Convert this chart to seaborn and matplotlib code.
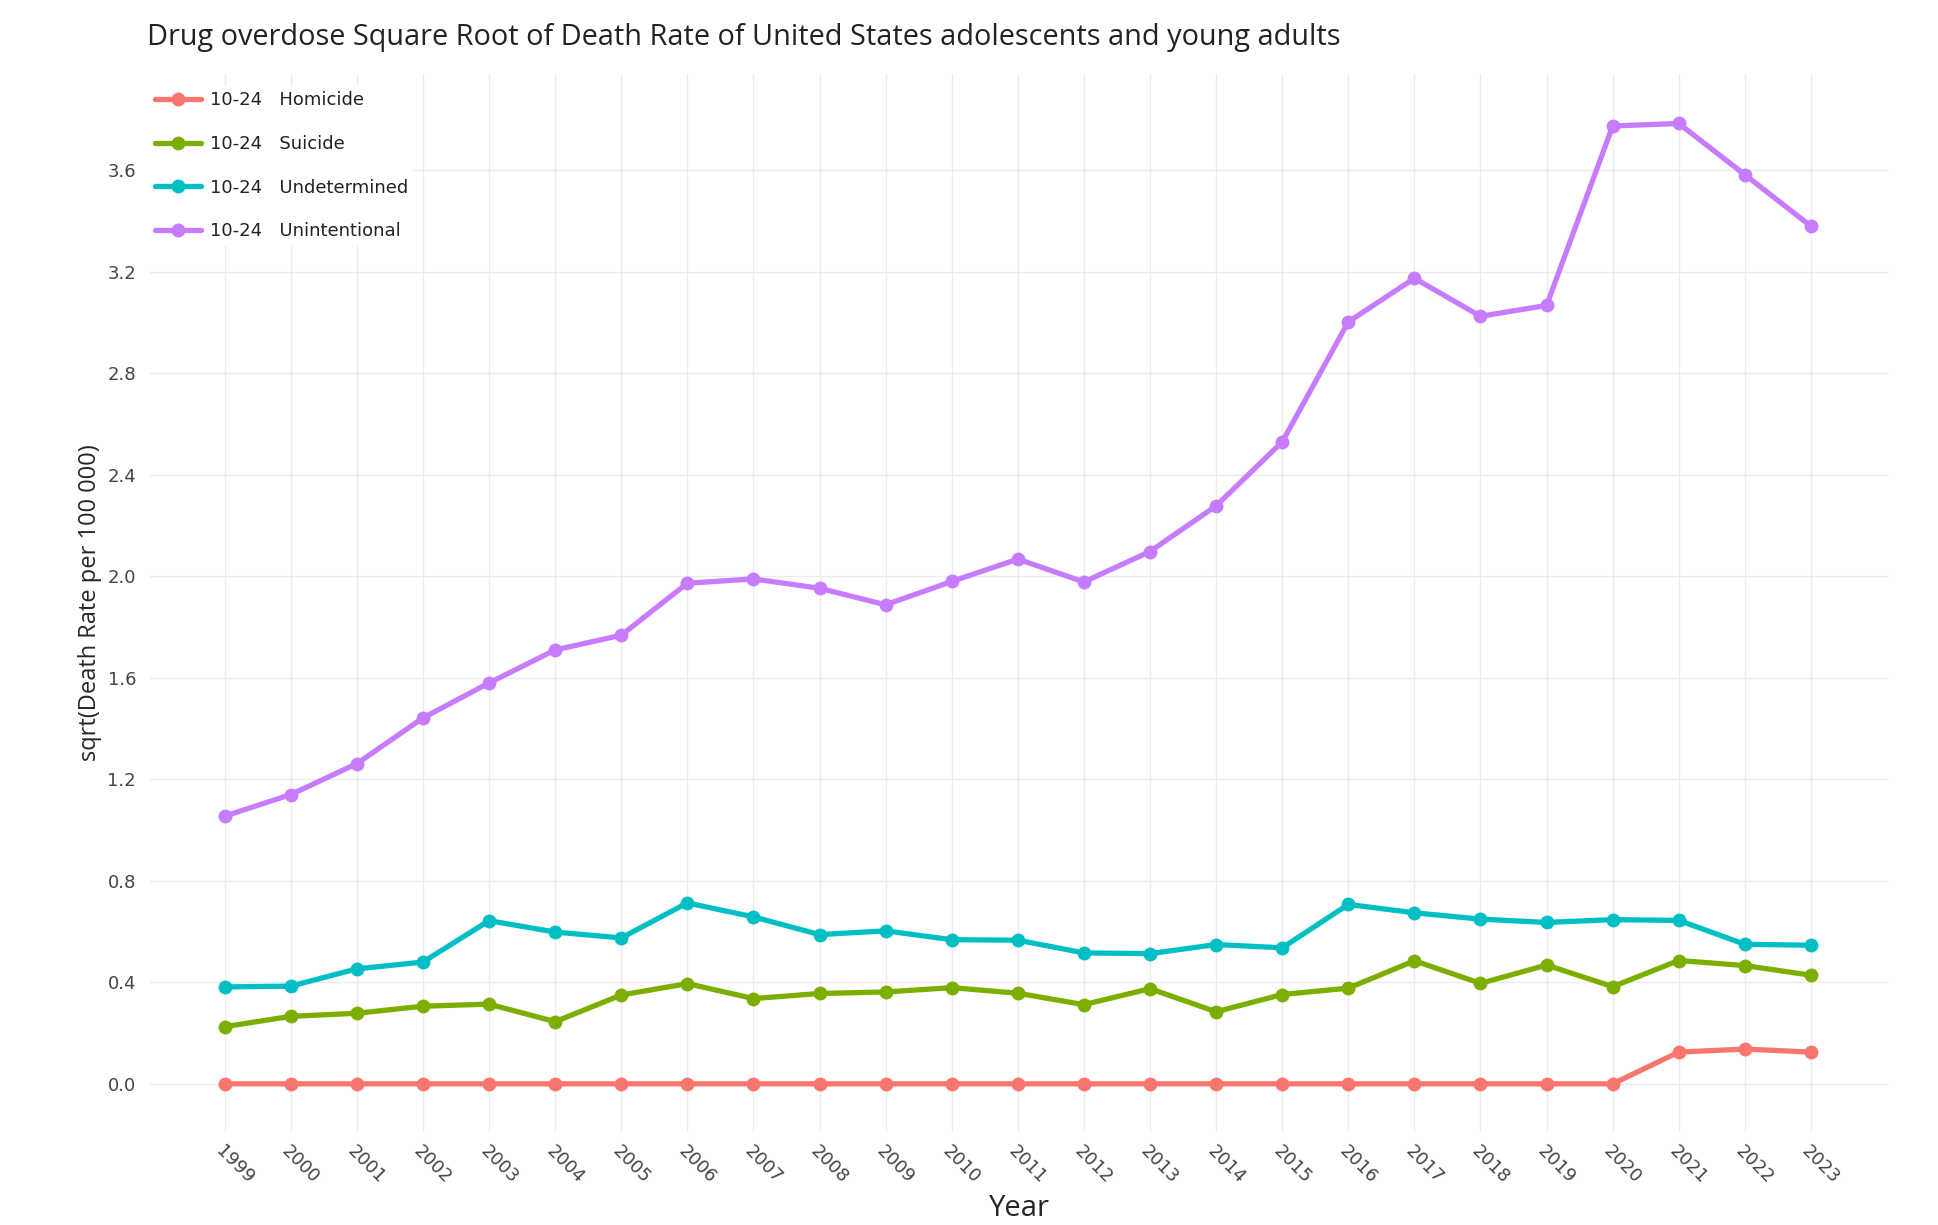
import matplotlib
matplotlib.use("Agg")
import matplotlib.pyplot as plt
import seaborn as sns
import pandas as pd
import numpy as np

years = list(range(1999, 2024))
homicide = [0, 0, 0, 0, 0, 0, 0, 0, 0, 0, 0, 0, 0, 0, 0, 0, 0, 0, 0, 0, 0, 0,
            0.125, 0.137, 0.125]
suicide = [0.225, 0.266, 0.278, 0.306, 0.314, 0.245, 0.350, 0.395, 0.336, 0.356,
           0.362, 0.379, 0.357, 0.312, 0.375, 0.284, 0.352, 0.377, 0.485, 0.396,
           0.468, 0.383, 0.486, 0.466, 0.428]
undetermined = [0.382, 0.385, 0.453, 0.480, 0.643, 0.598, 0.575, 0.713, 0.658, 0.588,
                0.603, 0.568, 0.566, 0.516, 0.513, 0.549, 0.536, 0.707, 0.674, 0.649,
                0.636, 0.647, 0.644, 0.550, 0.546]
unintentional = [1.055, 1.140, 1.262, 1.442, 1.580, 1.710, 1.768, 1.973, 1.990, 1.953,
                 1.888, 1.980, 2.068, 1.978, 2.098, 2.278, 2.530, 3.003, 3.175, 3.025,
                 3.068, 3.775, 3.785, 3.583, 3.380]
series_names = ["10-24   Homicide", "10-24   Suicide", "10-24   Undetermined", "10-24   Unintentional"]
colors = ["#F8766D", "#7CAE00", "#00BFC4", "#C77CFF"]
y_ticks = [0.0, 0.4, 0.8, 1.2, 1.6, 2.0, 2.4, 2.8, 3.2, 3.6]

frames = []
for name, vals in zip(series_names, [homicide, suicide, undetermined, unintentional]):
    frames.append(pd.DataFrame({"Year": years, "value": vals, "series": name}))
df = pd.concat(frames, ignore_index=True)

sns.set_style("white")
plt.rcParams["font.family"] = ["DejaVu Sans"]

fig = plt.figure(figsize=(19.38, 12.25), dpi=100)
ax = fig.add_axes([0.0774, 0.0759, 0.8973, 0.8637])

sns.lineplot(data=df, x="Year", y="value", hue="series", hue_order=series_names,
             palette=colors, marker="o", markersize=10, markeredgewidth=0,
             linewidth=3.8, ax=ax, legend=True)

ax.set_xlim(1997.87, 2024.18)
ax.set_ylim(-0.19, 3.98)
ax.set_xticks(years)
ax.set_xticklabels([str(y) for y in years], rotation=-45, ha="left", va="top",
                   rotation_mode="anchor", fontsize=13, color="#444444",
                   family=["DejaVu Sans"])
ax.set_yticks(y_ticks)
ax.set_yticklabels([f"{v:.1f}" for v in y_ticks], fontsize=13, color="#444444",
                   family=["DejaVu Sans"])
ax.tick_params(axis="both", length=0)
ax.tick_params(axis="x", pad=7)
ax.tick_params(axis="y", pad=10)
ax.grid(True, color="#EBEBEB", linewidth=1)
ax.set_axisbelow(True)
for s in ax.spines.values():
    s.set_visible(False)

ax.set_xlabel("Year", fontsize=21, family=["Open Sans", "DejaVu Sans"], labelpad=5)
ax.set_ylabel("sqrt(Death Rate per 100 000)", fontsize=17,
              family=["Open Sans", "DejaVu Sans"], labelpad=4)

fig.text(147 / 1938, 1 - 37 / 1225, "Drug overdose Square Root of Death Rate of United States adolescents and young adults",
         fontsize=20.8, family=["Open Sans", "DejaVu Sans"], ha="left", va="center", color="#222222")

handles, labels = ax.get_legend_handles_labels()
leg = ax.legend(handles, labels, loc="upper left", bbox_to_anchor=(150 / 1938, 1 - 86 / 1225),
                bbox_transform=fig.transFigure, prop={"family": "DejaVu Sans", "size": 13},
                frameon=True,
                facecolor="white", edgecolor="none", framealpha=1, fancybox=False,
                handlelength=2.5, handletextpad=0.5, labelspacing=1.42,
                borderpad=0.3, borderaxespad=0)
for t in leg.get_texts():
    t.set_color("#222222")

fig.savefig("out.png", dpi=100, facecolor="white")
